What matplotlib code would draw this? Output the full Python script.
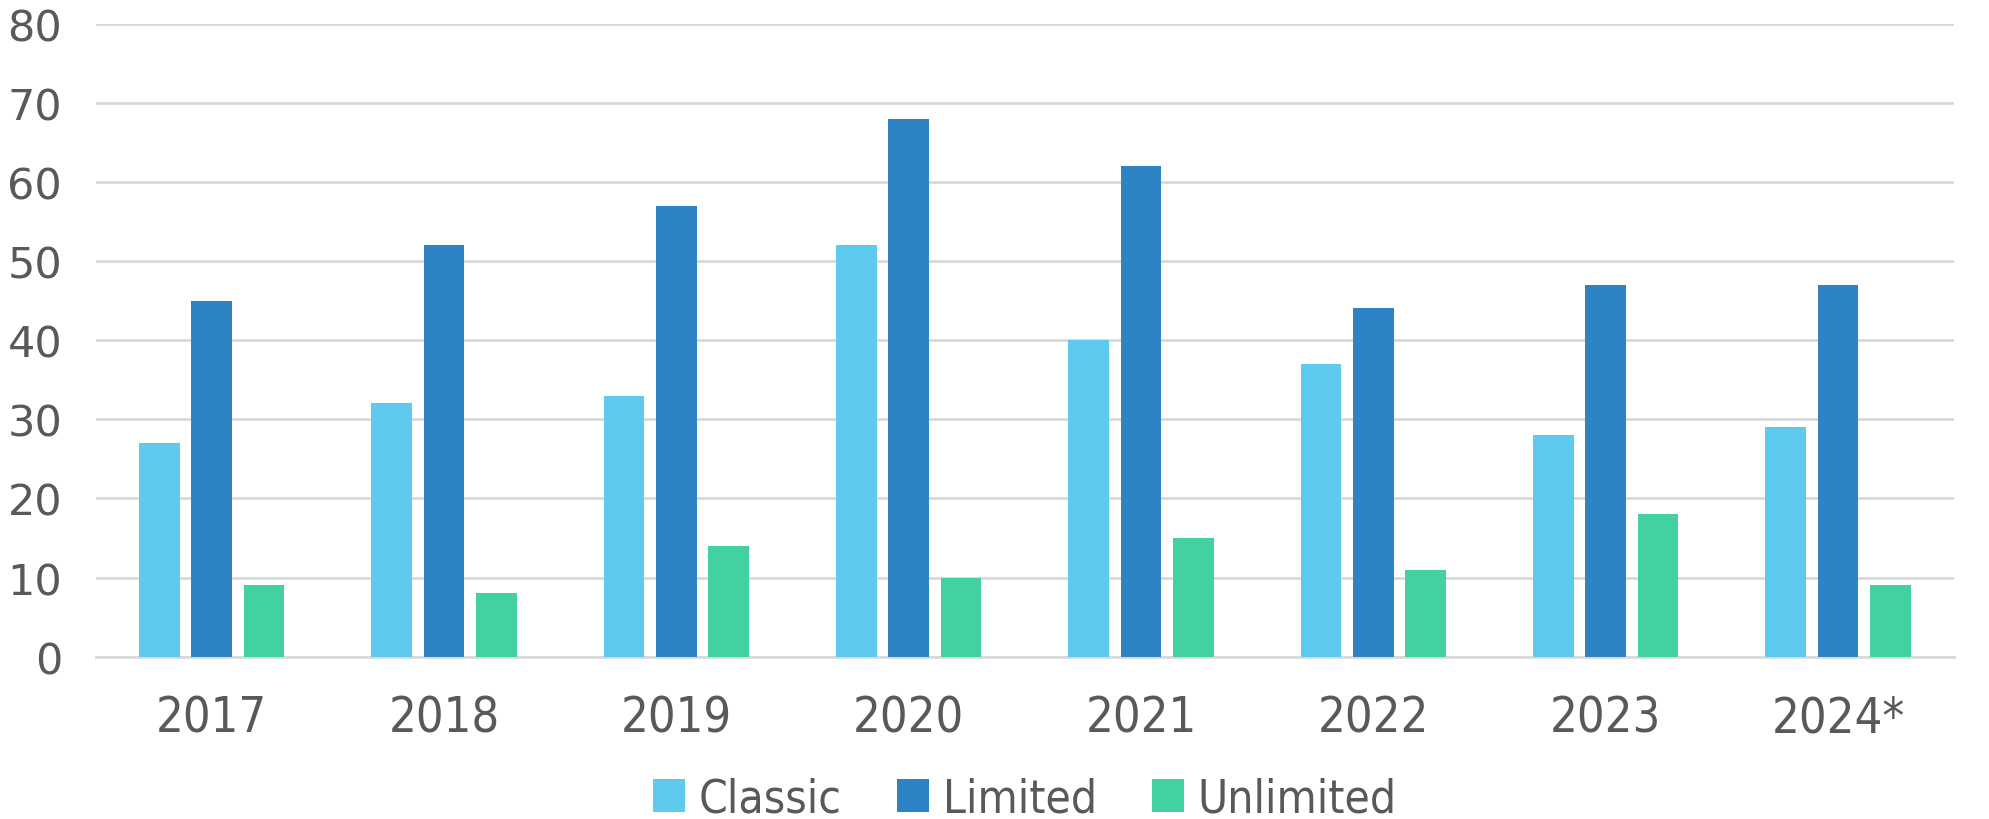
import matplotlib.pyplot as plt
import numpy as np

years = ["2017", "2018", "2019", "2020", "2021", "2022", "2023", "2024*"]
classic = [27, 32, 33, 52, 40, 37, 28, 29]
limited = [45, 52, 57, 68, 62, 44, 47, 47]
unlimited = [9, 8, 14, 10, 15, 11, 18, 9]

series = [("Classic", classic, "#5ecbee"),
          ("Limited", limited, "#2e83c4"),
          ("Unlimited", unlimited, "#43d0a2")]

txt = "#595959"

fig = plt.figure(figsize=(19.9, 8.2), dpi=100)
ax = fig.add_axes([0.048, 0.198, 0.934, 0.772])

x = np.arange(len(years))
w = 0.175
step = 0.225
for i, (name, vals, col) in enumerate(series):
    ax.bar(x + (i - 1) * step, vals, w, color=col, label=name, zorder=3)

ax.set_xlim(-0.5, len(years) - 0.5)
ax.set_ylim(0, 80)
ax.set_yticks(range(0, 81, 10))
ax.grid(axis="y", color="#d9d9d9", linewidth=2, zorder=0)
for s in ["top", "right", "left"]:
    ax.spines[s].set_visible(False)
ax.spines["bottom"].set_color("#d9d9d9")
ax.spines["bottom"].set_linewidth(2)
ax.tick_params(axis="both", length=0)
ax.tick_params(axis="y", labelsize=31, labelcolor=txt, pad=24)
ax.tick_params(axis="x", pad=54)
ax.set_xticks(x)
# baseline alignment so the asterisk in 2024* doesn't push it down
ax.set_xticklabels(years, fontsize=35, color=txt, fontstretch="condensed",
                   va="baseline")

leg = ax.legend(loc="center", bbox_to_anchor=(0.5, -0.225), ncol=3,
                frameon=False, prop={"size": 33, "stretch": "condensed"},
                handlelength=0.7, handleheight=0.7, handletextpad=0.3,
                columnspacing=1.2)
for t in leg.get_texts():
    t.set_color(txt)

fig.savefig("out.png", dpi=100)
